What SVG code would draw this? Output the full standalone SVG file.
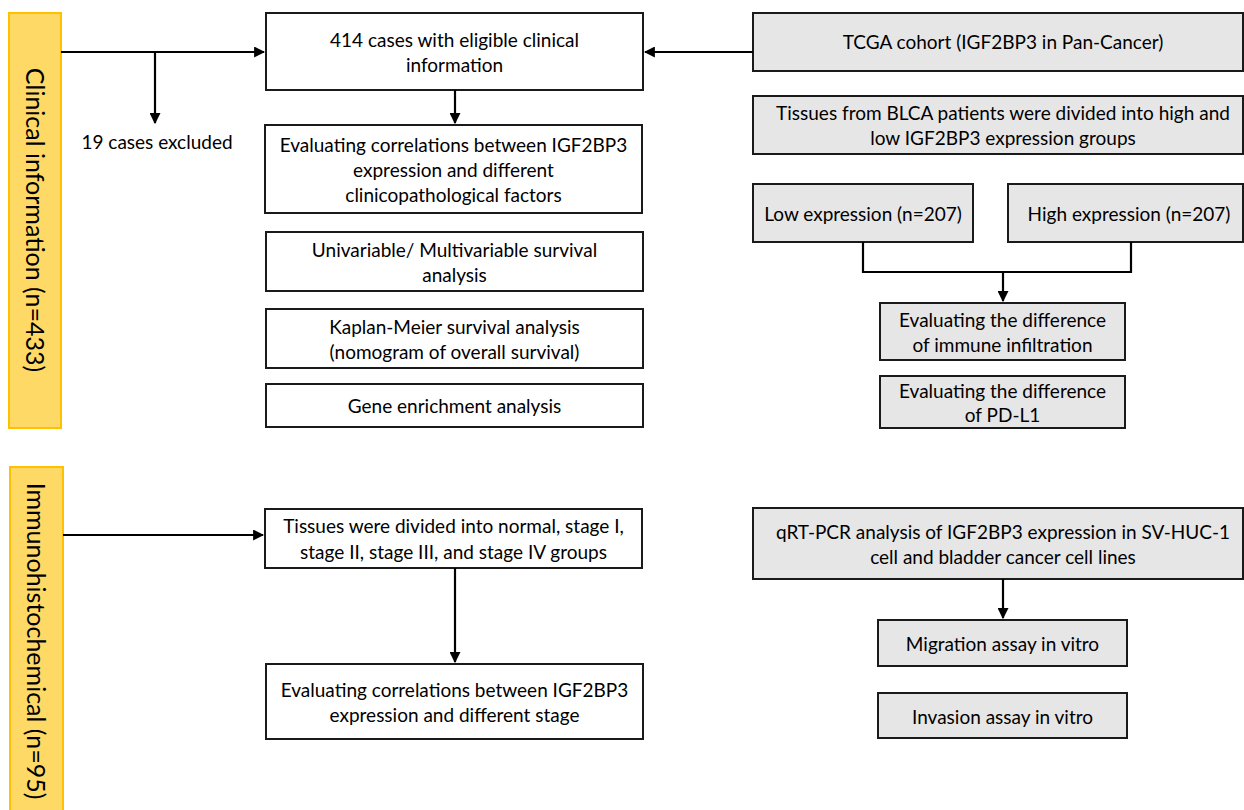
<svg xmlns="http://www.w3.org/2000/svg" width="1244" height="810" viewBox="0 0 1244 810">
<defs>
<marker id="ah" viewBox="0 0 10 10" refX="9" refY="5" markerWidth="5" markerHeight="5" orient="auto" markerUnits="strokeWidth">
<path d="M0,0 L10,5 L0,10 z" fill="#000"/>
</marker>
<style>
.bar{fill:#FFD966;stroke:#FFC000;stroke-width:2}
.w{fill:#fff;stroke:#1a1a1a;stroke-width:2}
.g{fill:#E7E6E6;stroke:#1a1a1a;stroke-width:2}
.t{font-family:Lato,"Open Sans",sans-serif;font-size:19px;fill:#000;text-anchor:middle}
.v{font-family:Lato,"Open Sans",sans-serif;font-size:25px;fill:#000;text-anchor:middle}
.c{fill:none;stroke:#000;stroke-width:2.2}
</style>
</defs>
<rect width="1244" height="810" fill="#fff"/>
<g id="bar1"><rect class="bar" x="9" y="13" width="52" height="415"/><text class="v" transform="translate(35,220) rotate(90)" dy="9">Clinical information (n=433)</text></g>
<g id="bar2"><rect class="bar" x="10" y="467" width="53" height="350"/><text class="v" transform="translate(36,641) rotate(90)" dy="9">Immunohistochemical (n=95)</text></g>

<g id="n414"><rect class="w" x="266" y="13" width="377" height="77"/><text class="t" x="454.5" y="47">414 cases with eligible clinical</text><text class="t" x="454.5" y="72">information</text></g>
<g id="excluded"><text class="t" x="157" y="149">19 cases excluded</text></g>
<g id="corr"><rect class="w" x="265" y="125" width="377" height="88"/><text class="t" x="453.5" y="152">Evaluating correlations between IGF2BP3</text><text class="t" x="453.5" y="177">expression and different</text><text class="t" x="453.5" y="202">clinicopathological factors</text></g>
<g id="univ"><rect class="w" x="266" y="232" width="377" height="59"/><text class="t" x="454.5" y="257">Univariable/ Multivariable survival</text><text class="t" x="454.5" y="282">analysis</text></g>
<g id="km"><rect class="w" x="266" y="309" width="377" height="59"/><text class="t" x="454.5" y="334">Kaplan-Meier survival analysis</text><text class="t" x="454.5" y="359">(nomogram of overall survival)</text></g>
<g id="gene"><rect class="w" x="266" y="384" width="377" height="43"/><text class="t" x="454.5" y="413">Gene enrichment analysis</text></g>

<g id="tcga"><rect class="g" x="753" y="13" width="490" height="58"/><text class="t" x="1003" y="49">TCGA cohort (IGF2BP3 in Pan-Cancer)</text></g>
<g id="tissuesBLCA"><rect class="g" x="753" y="96" width="490" height="58"/><text class="t" x="1003" y="120">Tissues from BLCA patients were divided into high and</text><text class="t" x="1003" y="145">low IGF2BP3 expression groups</text></g>
<g id="low"><rect class="g" x="753" y="184" width="220" height="58"/><text class="t" x="863" y="221">Low expression (n=207)</text></g>
<g id="high"><rect class="g" x="1008" y="184" width="235" height="58"/><text class="t" x="1129" y="221">High expression (n=207)</text></g>
<g id="immune"><rect class="g" x="880" y="303" width="245" height="57"/><text class="t" x="1002.5" y="327">Evaluating the difference</text><text class="t" x="1002.5" y="352">of immune infiltration</text></g>
<g id="pdl1"><rect class="g" x="880" y="376" width="245" height="52"/><text class="t" x="1002.5" y="398">Evaluating the difference</text><text class="t" x="1002.5" y="422">of PD-L1</text></g>

<g id="tissuesStage"><rect class="w" x="265" y="509" width="377" height="59"/><text class="t" x="453.5" y="533">Tissues were divided into normal, stage I,</text><text class="t" x="453.5" y="559">stage II, stage III, and stage IV groups</text></g>
<g id="stage"><rect class="w" x="266" y="664" width="377" height="75"/><text class="t" x="454.5" y="697">Evaluating correlations between IGF2BP3</text><text class="t" x="454.5" y="722">expression and different stage</text></g>
<g id="qrt"><rect class="g" x="753" y="508" width="490" height="71"/><text class="t" x="1003" y="539">qRT-PCR analysis of IGF2BP3 expression in SV-HUC-1</text><text class="t" x="1003" y="564">cell and bladder cancer cell lines</text></g>
<g id="migration"><rect class="g" x="878" y="620" width="249" height="46"/><text class="t" x="1002.5" y="651">Migration assay in vitro</text></g>
<g id="invasion"><rect class="g" x="878" y="693" width="249" height="45"/><text class="t" x="1002.5" y="724">Invasion assay in vitro</text></g>

<g id="connectors">
<path class="c" d="M61,52 H264" marker-end="url(#ah)"/>
<path class="c" d="M155,52 V123" marker-end="url(#ah)"/>
<path class="c" d="M753,52 H645" marker-end="url(#ah)"/>
<path class="c" d="M455,90 V123" marker-end="url(#ah)"/>
<path class="c" d="M863,242 V272 H1131 V242"/>
<path class="c" d="M1003,272 V301" marker-end="url(#ah)"/>
<path class="c" d="M63,535 H263" marker-end="url(#ah)"/>
<path class="c" d="M455,568 V662" marker-end="url(#ah)"/>
<path class="c" d="M1003,579 V618" marker-end="url(#ah)"/>
</g>
</svg>
